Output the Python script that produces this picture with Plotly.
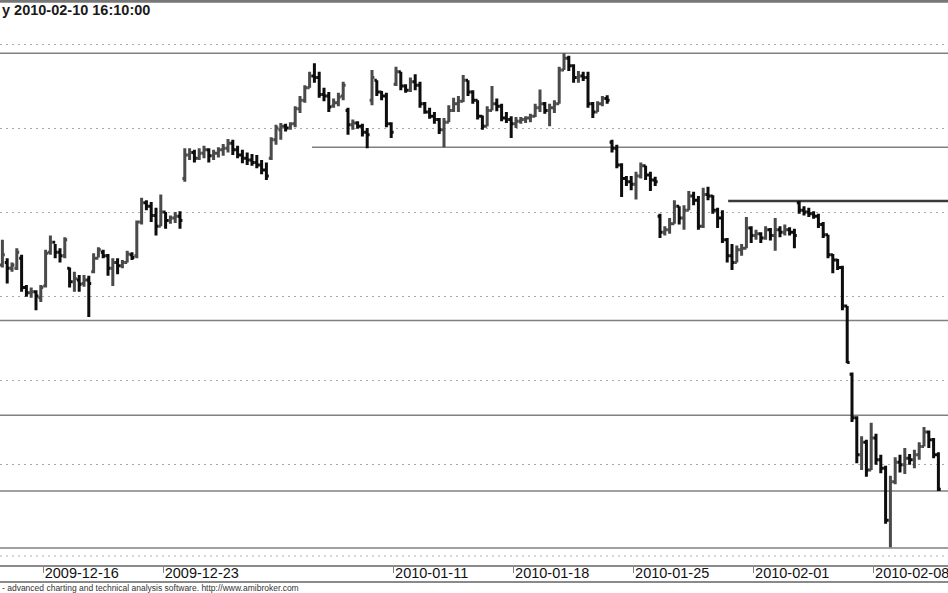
import plotly.graph_objects as go

# intraday bars, oldest first (price units, grid every 10 points)
opens = [1133.7, 1134.0, 1133.3, 1133.3, 1134.5, 1131.0, 1130.4, 1130.5, 1129.8, 1131.2,
         1135.2, 1136.4, 1135.2, 1134.8, 1133.3, 1131.7, 1131.9, 1131.5, 1131.9, 1132.9,
         1134.5, 1135.2, 1134.8, 1133.3, 1134.0, 1133.6, 1134.0, 1134.9, 1134.8, 1138.8,
         1141.1, 1140.7, 1139.6, 1138.3, 1140.0, 1139.0, 1139.3, 1139.5, 1144.0, 1146.8,
         1147.1, 1146.4, 1147.0, 1147.4, 1146.7, 1147.0, 1147.4, 1147.6, 1148.2, 1147.4,
         1146.8, 1146.4, 1146.2, 1145.9, 1145.6, 1145.0, 1146.4, 1148.6, 1149.8, 1150.2,
         1150.0, 1150.5, 1152.3, 1153.3, 1154.8, 1156.2, 1156.0, 1154.0, 1153.8, 1152.6,
         1153.0, 1153.8, 1152.1, 1150.4, 1150.6, 1150.2, 1149.5, 1153.3, 1155.7, 1154.3,
         1153.8, 1150.5, 1155.2, 1156.7, 1155.0, 1154.5, 1155.5, 1155.1, 1152.9, 1151.9,
         1151.4, 1151.0, 1149.8, 1150.7, 1152.1, 1152.9, 1153.2, 1155.7, 1154.3, 1153.3,
         1151.4, 1150.2, 1152.1, 1152.9, 1152.6, 1151.2, 1151.0, 1150.5, 1150.8, 1151.0,
         1151.2, 1151.4, 1152.4, 1152.9, 1152.1, 1152.4, 1152.9, 1156.9, 1158.3, 1157.4,
         1156.0, 1156.2, 1156.0, 1152.9, 1151.9, 1152.9, 1153.5, 1148.3, 1147.6, 1145.6,
         1144.0, 1143.6, 1143.3, 1144.3, 1145.5, 1144.4, 1143.8, 1139.5, 1137.6, 1137.9,
         1138.6, 1140.7, 1139.3, 1140.2, 1141.9, 1141.4, 1138.3, 1142.1, 1141.9, 1140.2,
         1139.3, 1136.7, 1134.8, 1134.0, 1135.5, 1135.7, 1138.1, 1137.2, 1137.4, 1136.9,
         1137.9, 1137.2, 1137.9, 1137.6, 1137.9, 1137.6, 1141.1, 1140.2, 1140.0, 1139.8,
         1139.5, 1138.5, 1137.3, 1134.9, 1134.3, 1133.4, 1128.8, 1120.7, 1115.5, 1111.1,
         1112.6, 1109.3, 1113.1, 1110.5, 1109.5, 1103.3, 1107.9, 1110.2, 1109.9, 1110.7,
         1110.5, 1111.1, 1112.1, 1113.8, 1112.9, 1111.1]
highs = [1136.7, 1134.5, 1134.0, 1135.7, 1134.9, 1131.3, 1131.0, 1130.7, 1131.3, 1135.5,
         1137.2, 1136.2, 1135.7, 1137.0, 1133.4, 1132.9, 1132.5, 1132.5, 1132.4, 1135.1,
         1135.8, 1135.5, 1135.0, 1134.5, 1134.5, 1134.3, 1135.4, 1135.2, 1139.0, 1141.7,
         1141.4, 1141.2, 1140.5, 1142.1, 1140.0, 1139.6, 1140.0, 1140.1, 1147.6, 1147.6,
         1147.4, 1147.6, 1147.9, 1147.6, 1147.4, 1147.7, 1148.1, 1148.7, 1148.6, 1147.9,
         1147.4, 1147.1, 1146.9, 1146.8, 1146.2, 1145.9, 1148.9, 1150.4, 1150.6, 1150.5,
         1150.7, 1152.6, 1153.8, 1155.1, 1156.7, 1157.7, 1156.7, 1154.8, 1154.3, 1153.5,
         1154.2, 1155.5, 1152.4, 1151.0, 1150.8, 1150.5, 1150.0, 1156.9, 1155.7, 1154.4,
         1154.2, 1150.7, 1157.3, 1156.7, 1155.2, 1156.0, 1156.4, 1155.5, 1153.1, 1152.4,
         1151.9, 1151.2, 1151.2, 1152.7, 1153.6, 1153.8, 1156.3, 1155.7, 1154.5, 1153.3,
         1151.5, 1152.6, 1155.0, 1153.5, 1152.9, 1151.9, 1151.4, 1151.3, 1151.3, 1151.4,
         1151.7, 1152.9, 1154.6, 1153.1, 1152.9, 1153.3, 1157.3, 1158.9, 1158.6, 1157.6,
         1156.8, 1156.7, 1156.7, 1153.1, 1153.2, 1153.8, 1153.9, 1148.6, 1148.0, 1145.8,
         1144.3, 1144.3, 1144.8, 1145.9, 1145.5, 1144.8, 1144.2, 1139.8, 1138.3, 1139.3,
         1141.4, 1140.7, 1140.8, 1142.5, 1142.4, 1141.9, 1142.9, 1143.0, 1142.0, 1140.5,
         1140.2, 1136.9, 1136.2, 1136.0, 1136.2, 1139.4, 1138.3, 1137.9, 1137.6, 1138.3,
         1138.1, 1139.3, 1138.3, 1138.5, 1138.2, 1138.0, 1141.3, 1140.7, 1140.5, 1140.1,
         1139.8, 1138.8, 1137.3, 1135.0, 1134.4, 1133.6, 1128.8, 1120.9, 1115.7, 1113.3,
         1112.9, 1114.9, 1113.6, 1111.1, 1109.8, 1108.6, 1110.8, 1111.1, 1111.9, 1111.2,
         1111.7, 1112.6, 1114.4, 1114.0, 1113.1, 1111.4]
lows = [1133.4, 1131.5, 1132.9, 1133.1, 1130.5, 1129.9, 1129.8, 1128.3, 1129.3, 1131.0,
        1134.9, 1134.5, 1134.0, 1134.5, 1131.0, 1130.5, 1130.5, 1131.1, 1127.5, 1132.7,
        1134.6, 1134.5, 1132.4, 1131.2, 1132.6, 1133.3, 1134.0, 1134.3, 1134.5, 1138.5,
        1140.2, 1138.8, 1137.2, 1138.3, 1138.0, 1138.6, 1138.7, 1138.0, 1143.6, 1146.2,
        1145.9, 1146.2, 1146.4, 1145.9, 1146.2, 1146.5, 1146.7, 1147.1, 1146.8, 1146.4,
        1145.8, 1145.6, 1145.5, 1145.2, 1144.5, 1143.8, 1146.2, 1148.0, 1148.6, 1149.6,
        1149.8, 1150.1, 1151.8, 1153.0, 1154.8, 1155.4, 1153.6, 1153.2, 1151.9, 1152.4,
        1152.6, 1153.3, 1149.2, 1149.8, 1149.9, 1149.0, 1147.6, 1152.7, 1153.8, 1153.3,
        1150.1, 1148.8, 1155.0, 1154.5, 1154.2, 1154.3, 1154.5, 1152.4, 1151.7, 1151.1,
        1150.5, 1149.3, 1147.7, 1150.7, 1151.9, 1151.9, 1153.1, 1153.8, 1152.9, 1151.0,
        1149.8, 1150.2, 1152.1, 1152.0, 1150.8, 1150.6, 1148.8, 1150.0, 1150.5, 1150.6,
        1150.7, 1151.3, 1151.9, 1151.7, 1150.2, 1151.8, 1152.9, 1156.9, 1156.8, 1155.4,
        1155.4, 1155.6, 1152.4, 1151.2, 1151.9, 1152.6, 1152.9, 1147.1, 1145.2, 1141.8,
        1143.1, 1142.6, 1141.5, 1144.0, 1143.8, 1142.5, 1143.1, 1136.9, 1137.2, 1137.4,
        1138.6, 1138.5, 1137.9, 1140.2, 1140.8, 1137.9, 1138.1, 1141.4, 1139.8, 1138.1,
        1136.3, 1134.0, 1133.1, 1134.0, 1134.8, 1135.7, 1136.3, 1136.7, 1136.3, 1136.7,
        1136.6, 1135.4, 1137.0, 1137.2, 1137.2, 1135.7, 1139.8, 1139.6, 1139.4, 1139.2,
        1138.1, 1136.9, 1134.5, 1132.7, 1133.1, 1128.3, 1122.0, 1115.0, 1110.1, 1109.3,
        1108.5, 1109.3, 1109.9, 1108.9, 1102.9, 1100.1, 1107.6, 1109.0, 1108.8, 1109.9,
        1109.5, 1110.5, 1112.1, 1111.9, 1110.7, 1106.8]
closes = [1134.9, 1133.3, 1133.7, 1135.2, 1131.0, 1130.4, 1130.5, 1130.0, 1131.0, 1135.1,
          1136.4, 1135.2, 1134.8, 1136.7, 1131.7, 1132.1, 1131.4, 1131.9, 1131.5, 1134.5,
          1135.5, 1134.8, 1133.3, 1134.0, 1133.6, 1134.0, 1135.0, 1134.6, 1138.8, 1141.1,
          1140.7, 1139.6, 1138.3, 1140.0, 1139.0, 1139.3, 1139.5, 1139.0, 1146.8, 1147.1,
          1146.4, 1147.0, 1147.4, 1146.7, 1147.0, 1147.4, 1147.6, 1148.2, 1147.4, 1146.8,
          1146.4, 1146.2, 1145.9, 1145.6, 1145.0, 1144.3, 1148.6, 1150.0, 1150.2, 1150.0,
          1150.5, 1152.3, 1153.3, 1154.8, 1156.2, 1156.0, 1154.0, 1153.8, 1152.5, 1153.0,
          1153.7, 1155.1, 1150.4, 1150.6, 1150.2, 1149.5, 1149.2, 1156.0, 1154.3, 1153.8,
          1150.5, 1149.5, 1156.7, 1155.0, 1154.5, 1155.5, 1155.1, 1152.9, 1151.9, 1151.4,
          1151.0, 1149.8, 1150.7, 1152.1, 1152.9, 1153.2, 1155.7, 1154.3, 1153.3, 1151.4,
          1150.2, 1152.1, 1152.9, 1152.6, 1151.2, 1151.0, 1150.5, 1150.8, 1151.0, 1151.2,
          1151.4, 1152.4, 1152.9, 1152.1, 1152.4, 1152.9, 1156.9, 1158.3, 1157.4, 1156.0,
          1156.2, 1156.0, 1152.9, 1151.9, 1152.9, 1153.5, 1153.3, 1147.6, 1145.6, 1144.0,
          1143.6, 1143.3, 1144.3, 1145.5, 1144.4, 1143.8, 1143.6, 1137.6, 1137.9, 1138.6,
          1140.7, 1139.3, 1140.2, 1141.9, 1141.4, 1138.3, 1142.1, 1141.9, 1140.2, 1139.3,
          1136.7, 1134.8, 1134.0, 1135.5, 1135.7, 1138.1, 1137.2, 1137.4, 1136.9, 1137.9,
          1137.2, 1137.9, 1137.6, 1137.9, 1137.6, 1137.2, 1140.2, 1140.0, 1139.8, 1139.5,
          1138.5, 1137.3, 1134.9, 1134.3, 1133.4, 1128.8, 1122.1, 1115.5, 1111.1, 1112.6,
          1109.3, 1113.1, 1110.5, 1109.5, 1103.3, 1107.9, 1110.2, 1109.9, 1110.7, 1110.5,
          1111.1, 1112.1, 1113.8, 1112.9, 1111.1, 1107.0]

# week labels: bar position where each week starts
week_pos = [8.5, 33.5, 81.5, 106.5, 131.5, 156.5, 181.5]
week_labels = ["2009-12-16", "2009-12-23", "2010-01-11", "2010-01-18",
               "2010-01-25", "2010-02-01", "2010-02-08"]

grid_levels = [1110, 1120, 1130, 1140, 1150, 1160]

# hand-drawn horizontal lines: price level and the bar they start from
line_levels = [1158.9, 1147.7, 1141.3, 1127.1, 1115.8, 1106.8, 1100.0]
line_start = [-0.5, 64.5, 151.2, -0.5, -0.5, -0.5, -0.5]

bars = list(range(len(closes)))

fig = go.Figure()
fig.add_trace(go.Ohlc(
    x=bars, open=opens, high=highs, low=lows, close=closes,
    increasing=dict(line=dict(color="#4a4a4a", width=3)),
    decreasing=dict(line=dict(color="#0d0d0d", width=3)),
    tickwidth=0.5, hoverinfo="skip", showlegend=False,
))

for lvl, x0 in zip(line_levels, line_start):
    heavy = lvl == 1141.3
    fig.add_shape(type="line", xref="x", yref="y", x0=x0, x1=197, y0=lvl, y1=lvl,
                  line=dict(color="#3a3a3a" if heavy else "#808080", width=2.5 if heavy else 1.5),
                  layer="below")

# frame decorations in paper space
fig.add_shape(type="line", xref="paper", yref="paper", x0=0, x1=1, y0=0.998, y1=0.998,
              line=dict(color="#777777", width=3))
fig.add_shape(type="line", xref="paper", yref="paper", x0=0, x1=1, y0=0.0159, y1=0.0159,
              line=dict(color="#b0b0b0", width=1, dash="2px,4px"))
fig.add_shape(type="line", xref="paper", yref="paper", x0=0, x1=1, y0=-0.0301, y1=-0.0301,
              line=dict(color="#8a8a8a", width=2))

fig.add_annotation(xref="paper", yref="paper", x=0, y=0.982, xanchor="left", yanchor="middle",
                   text="<b>y 2010-02-10 16:10:00</b>", showarrow=False,
                   font=dict(family="Liberation Sans, Arial", size=14.5, color="#1a1a1a"))
fig.add_annotation(xref="paper", yref="paper", x=0, y=-0.0405, xanchor="left", yanchor="middle",
                   text="- advanced charting and technical analysis software. http://www.amibroker.com",
                   showarrow=False, font=dict(family="Liberation Sans, Arial", size=8.5, color="#333333"))

fig.update_layout(
    width=948, height=593,
    margin=dict(l=0, r=0, t=0, b=28, autoexpand=False),
    paper_bgcolor="white", plot_bgcolor="white",
    xaxis=dict(range=[-0.5, 197], rangeslider=dict(visible=False), automargin=False,
               tickvals=week_pos, ticktext=week_labels, ticklabelposition="outside right",
               ticklabeloverflow="allow",
               ticks="outside", ticklen=6, tickcolor="#808080", ticklabelstandoff=-6,
               showgrid=False, zeroline=False, showline=True, linecolor="#8a8a8a", linewidth=2,
               tickfont=dict(family="Liberation Sans, Arial", size=14.5, color="#111111")),
    yaxis=dict(range=[1097.98, 1165.24], tickvals=grid_levels, showticklabels=False,
               automargin=False, showgrid=True, gridcolor="#a8a8a8", gridwidth=1,
               griddash="2px,4px", zeroline=False, showline=False, ticks=""),
)

# drop the browser's default page margin so the figure sits at the window corner
fig.write_html("out.html", config={"displayModeBar": False},
               post_script="document.body.style.margin='0';")
